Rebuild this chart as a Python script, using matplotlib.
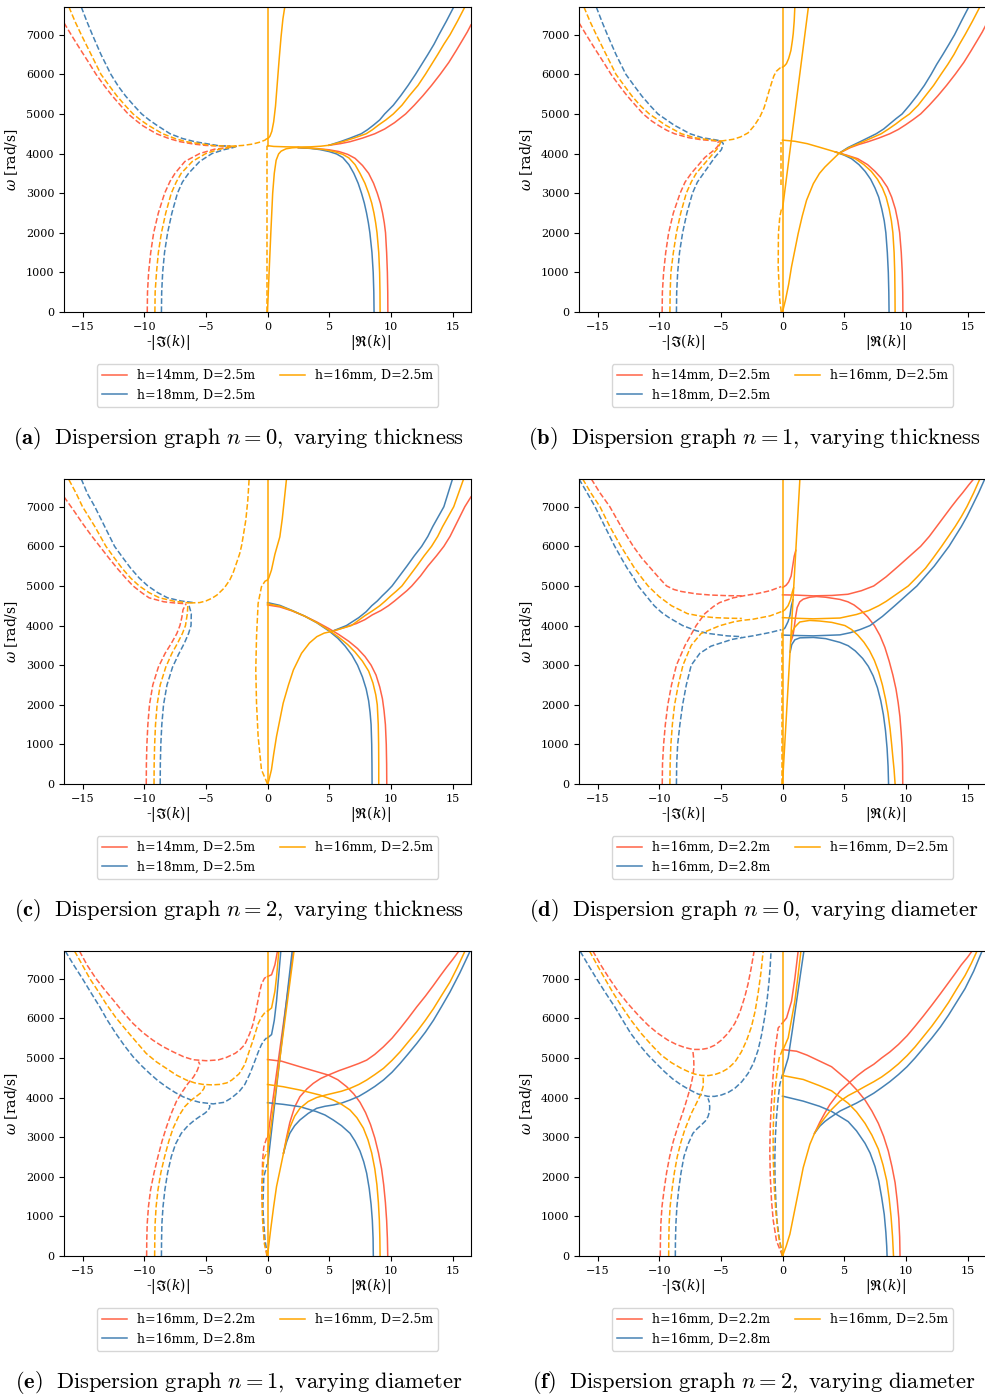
import matplotlib.pyplot as plt
from matplotlib.lines import Line2D

plt.rcParams["font.family"] = "DejaVu Serif"
plt.rcParams["mathtext.fontset"] = "dejavuserif"

RED, BLUE, ORANGE = "tomato", "steelblue", "orange"

# Each curve is (linestyle, [(k, omega), ...]); dashed = -|Im(k)|, solid = |Re(k)|

# (a) n = 0, varying thickness
a_red = [
    ("--", [(-16.5, 7300), (-15.8, 6940), (-15.2, 6640), (-14.5, 6300), (-13.9, 6000), (-13.2, 5700), (-12.6, 5460),
            (-11.9, 5210), (-11.3, 5000), (-10.6, 4820), (-10.1, 4700), (-9.5, 4590), (-9.0, 4500), (-8.0, 4380),
            (-7.1, 4300), (-6.0, 4240), (-5.0, 4205), (-3.0, 4185)]),
    ("--", [(-9.75, 0), (-9.73, 500), (-9.64, 1000), (-9.47, 1500), (-9.23, 2000), (-8.85, 2500), (-8.34, 3000),
            (-7.9, 3300), (-7.5, 3500), (-6.7, 3800), (-5.5, 4000), (-4.3, 4110), (-3.3, 4150), (-2.5, 4185)]),
    ("-", [(5.0, 4210), (5.9, 4250), (6.7, 4300), (7.7, 4390), (8.7, 4500), (9.5, 4620), (10.3, 4780), (11.2, 5000),
           (11.9, 5220), (12.6, 5460), (13.3, 5720), (14.0, 6000), (14.7, 6300), (15.3, 6600), (15.8, 6860),
           (16.2, 7070), (16.5, 7250)]),
    ("-", [(2.5, 4150), (4.0, 4125), (5.0, 4095), (5.8, 4050), (6.5, 3980), (7.1, 3880), (7.7, 3700), (8.2, 3500),
           (8.6, 3250), (8.9, 3000), (9.15, 2750), (9.33, 2500), (9.47, 2250), (9.57, 2000), (9.66, 1500),
           (9.72, 1000), (9.75, 500), (9.76, 0)]),
]
a_blue = [
    ("--", [(-15.1, 7700), (-14.6, 7300), (-14.2, 7000), (-13.5, 6500), (-12.7, 6000), (-12.1, 5700), (-11.5, 5450),
            (-10.8, 5200), (-10.2, 5000), (-9.6, 4850), (-9.0, 4720), (-7.9, 4500), (-6.9, 4380), (-5.9, 4300),
            (-4.0, 4200), (-3.0, 4185)]),
    ("--", [(-8.6, 0), (-8.58, 500), (-8.5, 1000), (-8.35, 1500), (-8.1, 2000), (-7.75, 2500), (-7.3, 3000),
            (-6.9, 3280), (-6.4, 3500), (-5.5, 3800), (-4.5, 4000), (-3.5, 4100), (-2.8, 4150), (-2.5, 4185)]),
    ("-", [(5.0, 4210), (5.9, 4300), (6.7, 4390), (7.6, 4500), (8.1, 4600), (8.6, 4720), (9.1, 4850), (9.5, 5000),
           (10.2, 5220), (10.8, 5460), (11.4, 5720), (12.0, 6000), (12.5, 6250), (13.0, 6500), (13.5, 6760),
           (13.9, 7000), (14.5, 7340), (15.1, 7700)]),
    ("-", [(2.5, 4150), (3.5, 4130), (4.25, 4100), (5.0, 4050), (5.6, 3990), (6.1, 3900), (6.6, 3720), (7.0, 3500),
           (7.35, 3250), (7.62, 3000), (7.85, 2750), (8.03, 2500), (8.18, 2250), (8.3, 2000), (8.47, 1500),
           (8.57, 1000), (8.62, 500), (8.64, 0)]),
]
a_orange = [
    ("--", [(-16.1, 7700), (-15.6, 7330), (-15.1, 7000), (-14.3, 6500), (-13.5, 6000), (-12.8, 5700), (-12.2, 5450),
            (-11.5, 5200), (-10.9, 5000), (-10.3, 4850), (-9.7, 4720), (-8.5, 4500), (-7.5, 4380), (-6.6, 4300),
            (-4.4, 4200), (-3.0, 4185)]),
    ("--", [(-9.13, 0), (-9.11, 500), (-9.0, 1000), (-8.85, 1500), (-8.6, 2000), (-8.25, 2500), (-7.8, 3000),
            (-7.4, 3280), (-7.0, 3500), (-6.1, 3800), (-5.0, 4000), (-3.9, 4110), (-3.1, 4150), (-2.5, 4185)]),
    ("-", [(5.0, 4210), (6.1, 4300), (7.0, 4390), (8.0, 4500), (8.5, 4600), (9.0, 4720), (9.6, 4850), (10.2, 5000),
           (10.9, 5220), (11.5, 5460), (12.2, 5720), (12.8, 6000), (13.3, 6250), (13.8, 6500), (14.3, 6760),
           (14.8, 7000), (15.4, 7340), (16.0, 7700)]),
    ("-", [(2.5, 4150), (3.5, 4135), (4.6, 4100), (5.4, 4050), (6.1, 3980), (6.6, 3890), (7.1, 3720), (7.5, 3500),
           (7.9, 3250), (8.2, 3000), (8.45, 2750), (8.63, 2500), (8.77, 2250), (8.88, 2000), (9.02, 1500),
           (9.09, 1000), (9.12, 500), (9.13, 0)]),
    ("--", [(-3.0, 4185), (-2.0, 4205), (-1.2, 4240), (-0.6, 4290), (-0.2, 4340), (-0.05, 4380)]),
    ("--", [(-0.08, 0), (-0.08, 4200)]),
    ("-", [(0.0, 4200), (0.5, 4180), (1.5, 4170), (2.5, 4165), (3.5, 4170), (4.3, 4185), (5.0, 4210)]),
    ("-", [(0.0, 4190), (0.0, 7700)]),
    ("-", [(0.0, 4380), (0.1, 4400), (0.2, 4440), (0.35, 4560), (0.5, 4800), (0.65, 5200), (0.8, 5800), (0.95, 6400),
           (1.1, 6950), (1.25, 7400), (1.4, 7700)]),
    ("-", [(0.0, 0), (0.13, 1000), (0.27, 2000), (0.42, 3000), (0.55, 3500), (0.7, 3830), (0.9, 3990), (1.1, 4060),
           (1.5, 4120), (2.0, 4145), (2.5, 4155)]),
]

# (b) n = 1, varying thickness
b_red = [
    ("--", [(-16.5, 7300), (-15.8, 6940), (-15.2, 6640), (-14.5, 6300), (-13.9, 6000), (-13.2, 5700), (-12.6, 5460),
            (-11.9, 5210), (-11.3, 5000), (-10.6, 4820), (-10.0, 4700), (-9.4, 4590), (-8.75, 4500), (-7.6, 4400),
            (-6.6, 4350), (-5.5, 4320), (-5.0, 4310)]),
    ("--", [(-9.76, 0), (-9.74, 500), (-9.64, 1000), (-9.47, 1500), (-9.23, 2000), (-8.85, 2500), (-8.3, 3000),
            (-7.9, 3280), (-7.4, 3500), (-6.3, 3900), (-5.5, 4100), (-5.2, 4200), (-5.3, 4280), (-5.0, 4310)]),
    ("-", [(4.6, 4010), (5.5, 4150), (6.2, 4230), (6.95, 4300), (7.8, 4390), (8.7, 4500), (9.4, 4610), (10.0, 4730),
           (10.6, 4860), (11.2, 5000), (11.9, 5220), (12.6, 5460), (13.3, 5720), (14.0, 6000), (14.7, 6300),
           (15.3, 6600), (15.8, 6860), (16.2, 7070), (16.5, 7250)]),
    ("-", [(4.3, 4040), (5.2, 3960), (6.1, 3870), (6.9, 3720), (7.5, 3550), (8.0, 3380), (8.5, 3150), (8.85, 2900),
           (9.15, 2600), (9.35, 2300), (9.5, 2000), (9.63, 1500), (9.71, 1000), (9.75, 500), (9.76, 0)]),
]
b_blue = [
    ("--", [(-15.1, 7700), (-14.6, 7300), (-14.2, 7000), (-13.5, 6500), (-12.7, 6000), (-12.0, 5700), (-11.4, 5450),
            (-10.7, 5200), (-10.1, 5000), (-9.4, 4850), (-8.8, 4720), (-7.5, 4500), (-6.5, 4400), (-5.5, 4350),
            (-5.0, 4320)]),
    ("--", [(-8.6, 0), (-8.58, 500), (-8.5, 1000), (-8.35, 1500), (-8.1, 2000), (-7.75, 2500), (-7.3, 3000),
            (-6.9, 3280), (-6.4, 3500), (-5.5, 3900), (-4.95, 4100), (-4.8, 4250), (-5.0, 4320)]),
    ("-", [(4.6, 4010), (5.3, 4150), (6.3, 4300), (7.6, 4500), (8.2, 4620), (8.7, 4750), (9.2, 4880), (9.7, 5000),
           (10.3, 5220), (10.9, 5460), (11.5, 5720), (12.05, 6000), (12.5, 6250), (13.0, 6500), (13.5, 6760),
           (13.95, 7000), (14.5, 7340), (15.1, 7700)]),
    ("-", [(4.3, 4040), (5.0, 3960), (5.6, 3870), (6.2, 3720), (6.7, 3550), (7.15, 3350), (7.5, 3130), (7.8, 2900),
           (8.05, 2600), (8.25, 2300), (8.38, 2000), (8.5, 1500), (8.58, 1000), (8.62, 500), (8.64, 0)]),
]
b_orange = [
    ("--", [(-16.1, 7700), (-15.6, 7330), (-15.1, 7000), (-14.3, 6500), (-13.5, 6000), (-12.8, 5700), (-12.2, 5450),
            (-11.5, 5200), (-10.8, 5000), (-10.1, 4850), (-9.5, 4720), (-8.2, 4500), (-7.1, 4400), (-6.0, 4350),
            (-5.0, 4315)]),
    ("--", [(-9.13, 0), (-9.11, 500), (-9.05, 1000), (-8.85, 1500), (-8.6, 2000), (-8.25, 2500), (-7.8, 3000),
            (-7.4, 3280), (-7.0, 3500), (-5.9, 3900), (-5.2, 4150), (-5.0, 4300)]),
    ("-", [(4.6, 4010), (5.4, 4150), (6.55, 4300), (8.0, 4500), (8.6, 4620), (9.2, 4750), (9.7, 4870), (10.3, 5000),
           (11.0, 5220), (11.6, 5460), (12.25, 5720), (12.85, 6000), (13.4, 6250), (13.9, 6500), (14.35, 6760),
           (14.8, 7000), (15.4, 7340), (16.0, 7700)]),
    ("-", [(4.3, 4040), (5.1, 3960), (5.9, 3870), (6.6, 3720), (7.2, 3550), (7.7, 3350), (8.1, 3130), (8.4, 2900),
           (8.65, 2600), (8.83, 2300), (8.95, 2000), (9.05, 1500), (9.1, 1000), (9.12, 500), (9.13, 0)]),
    ("--", [(-5.0, 4315), (-4.0, 4360), (-3.4, 4420), (-2.8, 4520), (-2.3, 4700), (-1.84, 4920), (-1.5, 5150),
            (-1.3, 5350), (-1.1, 5570), (-0.9, 5770), (-0.7, 5960), (-0.49, 6080), (-0.2, 6160), (0.0, 6180)]),
    ("-", [(0.0, 6180), (0.15, 6210), (0.32, 6270), (0.5, 6400), (0.68, 6600), (0.8, 6850), (0.87, 7030),
           (0.95, 7350), (1.0, 7700)]),
    ("-", [(0.0, 2600), (1.05, 5150), (2.1, 7700)]),
    ("-", [(0.0, 0), (0.0, 7700)]),
    ("-", [(0.0, 4340), (1.0, 4310), (2.0, 4250), (3.0, 4160), (4.3, 4040)]),
    ("-", [(0.0, 0), (0.24, 300), (0.5, 700), (0.73, 1140), (1.0, 1560), (1.27, 1980), (1.6, 2420), (1.95, 2820),
           (2.5, 3240), (3.0, 3500), (3.44, 3660), (4.0, 3830), (4.6, 4010)]),
    ("--", [(-0.1, 0), (-0.22, 300), (-0.35, 1140), (-0.33, 1980), (-0.22, 2400), (-0.08, 2610)]),
    ("--", [(-0.1, 3200), (-0.1, 4300)]),
]

# (c) n = 2, varying thickness
c_red = [
    ("--", [(-16.5, 7250), (-15.7, 6900), (-15.0, 6580), (-14.3, 6280), (-13.6, 6000), (-12.9, 5720), (-12.2, 5450),
            (-11.5, 5200), (-10.9, 5000), (-10.2, 4830), (-9.6, 4700), (-8.4, 4600), (-7.5, 4570), (-6.6, 4550)]),
    ("--", [(-9.83, 0), (-9.82, 500), (-9.78, 1000), (-9.7, 1500), (-9.57, 2000), (-9.3, 2500), (-8.85, 2950),
            (-8.3, 3300), (-7.8, 3550), (-7.35, 3800), (-7.1, 4000), (-6.95, 4200), (-6.85, 4400), (-6.6, 4550)]),
    ("-", [(5.2, 3850), (6.2, 3950), (7.2, 4050), (7.9, 4150), (8.5, 4270), (9.2, 4380), (9.8, 4500), (10.3, 4620),
           (10.8, 4750), (11.3, 4880), (11.7, 5000), (12.4, 5250), (13.0, 5500), (13.7, 5760), (14.3, 6000),
           (14.8, 6250), (15.2, 6500), (15.6, 6750), (16.0, 7000), (16.5, 7250)]),
    ("-", [(0.0, 4520), (1.0, 4470), (2.0, 4370), (3.0, 4240), (4.0, 4090), (5.0, 3920), (5.8, 3770), (6.6, 3600),
           (7.3, 3420), (7.9, 3220), (8.4, 3000), (8.8, 2750), (9.1, 2450), (9.32, 2150), (9.45, 1850), (9.56, 1500),
           (9.63, 1000), (9.66, 500), (9.67, 0)]),
]
c_blue = [
    ("--", [(-15.1, 7700), (-14.6, 7330), (-14.0, 7000), (-13.2, 6500), (-12.4, 6000), (-11.7, 5700), (-11.1, 5450),
            (-10.4, 5200), (-9.7, 5000), (-8.9, 4830), (-8.1, 4700), (-7.0, 4620), (-6.0, 4580)]),
    ("--", [(-8.7, 0), (-8.69, 500), (-8.65, 1000), (-8.57, 1500), (-8.43, 2000), (-8.15, 2500), (-7.7, 2950),
            (-7.2, 3280), (-6.75, 3550), (-6.4, 3800), (-6.2, 4000), (-6.18, 4300), (-6.4, 4550)]),
    ("-", [(5.2, 3850), (6.4, 4000), (7.4, 4200), (8.0, 4350), (8.45, 4500), (8.9, 4620), (9.3, 4750), (9.7, 4870),
           (10.1, 5000), (10.7, 5250), (11.3, 5500), (11.9, 5760), (12.5, 6000), (13.0, 6250), (13.4, 6500),
           (13.85, 6750), (14.3, 7000), (14.65, 7350), (15.0, 7700)]),
    ("-", [(0.0, 4580), (1.0, 4510), (2.0, 4380), (3.0, 4240), (4.0, 4070), (5.0, 3860), (5.7, 3680), (6.3, 3480),
           (6.85, 3250), (7.3, 3000), (7.7, 2700), (8.0, 2400), (8.2, 2100), (8.32, 1800), (8.4, 1500), (8.45, 1000),
           (8.47, 500), (8.48, 0)]),
]
c_orange = [
    ("--", [(-16.1, 7680), (-15.5, 7330), (-15.0, 7000), (-14.0, 6500), (-13.1, 6000), (-12.4, 5700), (-11.8, 5450),
            (-11.1, 5200), (-10.4, 5000), (-9.6, 4830), (-8.75, 4700), (-7.5, 4610), (-6.3, 4570)]),
    ("--", [(-9.2, 0), (-9.19, 500), (-9.15, 1000), (-9.08, 1500), (-8.95, 2000), (-8.7, 2500), (-8.25, 2950),
            (-7.75, 3300), (-7.3, 3550), (-6.9, 3800), (-6.65, 4000), (-6.5, 4300), (-6.45, 4560)]),
    ("-", [(5.2, 3850), (6.8, 4000), (7.9, 4250), (8.5, 4370), (9.1, 4500), (9.55, 4620), (10.0, 4750), (10.45, 4870),
           (10.9, 5000), (11.5, 5250), (12.1, 5500), (12.7, 5760), (13.3, 6000), (13.8, 6250), (14.2, 6500),
           (14.65, 6750), (15.1, 7000), (15.5, 7350), (15.9, 7700)]),
    ("-", [(0.0, 4550), (1.0, 4490), (2.0, 4375), (3.0, 4240), (4.0, 4075), (5.0, 3880), (5.8, 3700), (6.5, 3520),
           (7.1, 3330), (7.7, 3100), (8.2, 2850), (8.55, 2550), (8.78, 2250), (8.9, 2000), (8.98, 1500), (9.01, 1000),
           (9.02, 500), (9.02, 0)]),
    ("--", [(-6.3, 4570), (-5.5, 4580), (-5.0, 4620), (-4.5, 4690), (-4.1, 4770), (-3.5, 4950), (-3.06, 5150),
            (-2.8, 5320), (-2.6, 5500), (-2.4, 5680), (-2.25, 5820), (-2.1, 6020), (-2.0, 6200), (-1.88, 6430),
            (-1.76, 6660), (-1.6, 7150), (-1.49, 7700)]),
    ("--", [(0.0, 0), (-0.2, 150), (-0.49, 360), (-0.76, 1200), (-0.89, 2040), (-0.95, 2880), (-0.89, 3720),
            (-0.76, 4560), (-0.49, 4980), (-0.2, 5120), (0.0, 5150)]),
    ("-", [(0.0, 0), (0.0, 7700)]),
    ("-", [(0.0, 5150), (0.1, 5200), (0.32, 5400), (0.6, 5800), (0.8, 6020), (1.0, 6240), (1.2, 6700), (1.33, 7080),
           (1.54, 7700)]),
    ("-", [(0.0, 0), (0.1, 80), (0.32, 360), (0.5, 750), (0.73, 1200), (1.0, 1620), (1.27, 2040), (1.7, 2500),
           (2.1, 2880), (2.76, 3300), (3.4, 3560), (4.0, 3720), (4.6, 3810), (5.2, 3850)]),
]

# (d) n = 0, varying diameter
d_red = [
    ("--", [(-15.5, 7700), (-14.8, 7350), (-14.0, 7000), (-13.0, 6450), (-12.1, 6000), (-11.4, 5700), (-10.7, 5450),
            (-10.0, 5200), (-9.4, 5000), (-8.8, 4910), (-8.2, 4860), (-7.0, 4800), (-5.8, 4770), (-4.5, 4755),
            (-3.3, 4750)]),
    ("--", [(-9.75, 0), (-9.73, 500), (-9.64, 1000), (-9.5, 1500), (-9.3, 2000), (-9.0, 2500), (-8.6, 3000),
            (-7.9, 3500), (-7.0, 4000), (-6.3, 4300), (-5.6, 4480), (-5.1, 4580), (-4.0, 4700), (-3.0, 4760),
            (-2.0, 4810), (-1.0, 4880), (-0.1, 4985)]),
    ("-", [(0.02, 4960), (0.3, 5020), (0.5, 5100), (0.7, 5250), (0.85, 5550), (0.95, 5750), (1.08, 5900)]),
    ("-", [(0.0, 4775), (1.0, 4770), (2.5, 4750), (4.0, 4760), (5.3, 4790), (6.4, 4880), (7.4, 5000), (8.4, 5230),
           (9.4, 5500), (10.3, 5750), (11.2, 6000), (11.9, 6250), (12.5, 6500), (13.1, 6750), (13.7, 7000),
           (14.2, 7200), (14.6, 7350), (15.1, 7550), (15.5, 7700)]),
    ("-", [(0.68, 3600), (0.85, 3750), (0.95, 3950), (1.05, 4200), (1.19, 4456), (1.4, 4600), (1.68, 4666),
           (2.2, 4715), (2.76, 4733), (3.5, 4715), (4.66, 4660), (5.3, 4600), (5.8, 4520), (6.3, 4400), (6.9, 4220),
           (7.45, 4000), (7.9, 3750), (8.3, 3450), (8.65, 3100), (8.95, 2750), (9.2, 2400), (9.38, 2050),
           (9.52, 1700), (9.62, 1300), (9.7, 900), (9.74, 450), (9.75, 0)]),
]
d_blue = [
    ("--", [(-16.5, 7700), (-15.8, 7330), (-15.2, 7000), (-14.4, 6500), (-13.6, 6000), (-13.1, 5720), (-12.6, 5450),
            (-12.1, 5220), (-11.7, 5000), (-11.0, 4730), (-10.4, 4500), (-9.8, 4330), (-9.2, 4200), (-8.1, 4000),
            (-7.0, 3870), (-6.0, 3800), (-4.5, 3740), (-3.3, 3720)]),
    ("--", [(-8.6, 0), (-8.58, 500), (-8.5, 1000), (-8.32, 1500), (-8.1, 2000), (-7.8, 2500), (-7.4, 3000),
            (-6.7, 3300), (-5.8, 3480), (-5.1, 3550), (-4.1, 3650), (-3.0, 3710), (-2.4, 3740), (-1.0, 3825),
            (-0.1, 3895)]),
    ("-", [(0.02, 3890), (0.2, 3940), (0.45, 4100), (0.6, 4250), (0.72, 4500), (0.85, 4650)]),
    ("-", [(0.0, 3760), (1.0, 3750), (2.5, 3740), (4.66, 3765), (5.5, 3820), (6.3, 3900), (7.1, 4000), (8.1, 4230),
           (9.1, 4500), (10.0, 4750), (10.9, 5000), (11.6, 5250), (12.3, 5500), (12.9, 5750), (13.5, 6000),
           (14.0, 6250), (14.5, 6500), (14.95, 6750), (15.35, 7000), (15.9, 7350), (16.4, 7700)]),
    ("-", [(0.62, 3330), (0.75, 3520), (1.0, 3640), (1.41, 3690), (2.5, 3700), (3.5, 3670), (4.66, 3575),
           (5.33, 3490), (5.9, 3360), (6.5, 3170), (6.96, 2970), (7.35, 2730), (7.7, 2430), (7.97, 2100),
           (8.18, 1750), (8.35, 1350), (8.48, 900), (8.56, 450), (8.6, 0)]),
]
d_orange = [
    ("--", [(-16.2, 7700), (-15.5, 7330), (-14.8, 7000), (-14.0, 6500), (-13.1, 6000), (-12.5, 5700), (-12.0, 5450),
            (-11.4, 5200), (-10.9, 5000), (-10.0, 4730), (-9.0, 4500), (-7.7, 4300), (-6.5, 4230), (-5.5, 4200),
            (-4.3, 4185), (-3.3, 4180)]),
    ("--", [(-9.13, 0), (-9.11, 500), (-9.05, 1000), (-8.93, 1500), (-8.75, 2000), (-8.45, 2500), (-8.07, 3000),
            (-7.4, 3500), (-6.6, 3800), (-5.1, 3995), (-4.0, 4090), (-3.3, 4130), (-2.4, 4160), (-1.0, 4245),
            (-0.1, 4350)]),
    ("-", [(0.02, 4360), (0.2, 4400), (0.45, 4500), (0.65, 4650), (0.8, 4850), (0.9, 4950)]),
    ("-", [(0.0, 4200), (1.0, 4185), (2.5, 4170), (4.66, 4190), (6.0, 4280), (7.0, 4380), (7.8, 4500), (8.4, 4610),
           (9.0, 4740), (9.6, 4870), (10.2, 5000), (10.9, 5220), (11.6, 5450), (12.25, 5720), (12.9, 6000),
           (13.45, 6250), (14.0, 6500), (14.5, 6750), (14.95, 7000), (15.5, 7350), (16.0, 7700)]),
    ("-", [(0.68, 3660), (0.8, 3850), (1.0, 3960), (1.4, 4090), (2.2, 4130), (3.0, 4115), (4.0, 4080), (5.06, 4000),
           (5.6, 3900), (6.1, 3760), (6.6, 3580), (7.05, 3370), (7.45, 3120), (7.8, 2830), (8.1, 2500), (8.35, 2150),
           (8.55, 1800), (8.72, 1400), (8.85, 1000), (8.94, 700), (9.05, 350), (9.13, 0)]),
    ("--", [(-0.05, 0), (-0.05, 3900)]),
    ("-", [(0.0, 0), (0.0, 7700)]),
    ("-", [(0.0, 0), (1.41, 7700)]),
]

# (e) n = 1, varying diameter
e_red = [
    ("--", [(-15.25, 7700), (-14.6, 7330), (-13.9, 7000), (-13.2, 6720), (-12.5, 6460), (-11.7, 6150), (-10.9, 5870),
            (-10.1, 5640), (-9.3, 5450), (-8.5, 5290), (-7.66, 5155), (-6.8, 5030), (-6.04, 4955), (-4.96, 4930),
            (-4.0, 4950), (-3.33, 5013), (-2.6, 5120), (-2.2, 5220), (-1.84, 5337), (-1.44, 5617), (-1.2, 5830),
            (-1.03, 6050), (-0.85, 6330), (-0.65, 6640), (-0.49, 6860), (-0.25, 7010), (-0.05, 7055)]),
    ("-", [(0.0, 7055), (0.33, 7100), (0.6, 7350), (0.81, 7700)]),
    ("--", [(-9.8, 0), (-9.79, 400), (-9.75, 831), (-9.65, 1250), (-9.48, 1671), (-9.2, 2100), (-8.88, 2510),
            (-8.55, 2900), (-8.2, 3250), (-7.8, 3600), (-7.39, 3900), (-6.9, 4150), (-6.44, 4358), (-6.0, 4520),
            (-5.7, 4680), (-5.5, 4845), (-5.6, 4910)]),
    ("-", [(0.02, 3000), (2.1, 7700)]),
    ("--", [(-0.05, 0), (-0.3, 500), (-0.45, 1500), (-0.4, 2400), (-0.3, 2750), (-0.05, 3000)]),
    ("-", [(0.0, 4960), (1.14, 4918), (2.63, 4778), (3.7, 4680), (4.93, 4568), (5.7, 4450), (6.42, 4274),
           (7.0, 4090), (7.5, 3880), (7.95, 3620), (8.35, 3320), (8.7, 2980), (9.0, 2600), (9.25, 2200),
           (9.42, 1800), (9.56, 1350), (9.66, 900), (9.72, 450), (9.75, 0)]),
    ("-", [(1.3, 2600), (1.55, 3000), (1.81, 3370), (2.2, 3760), (2.63, 4022), (3.2, 4220), (3.71, 4358),
           (4.3, 4480), (4.93, 4568), (5.8, 4680), (6.69, 4778), (7.4, 4860), (8.04, 4945), (8.7, 5090), (9.4, 5281),
           (10.1, 5500), (10.75, 5743), (11.4, 6000), (12.1, 6289), (12.8, 6560), (13.46, 6835), (14.0, 7070),
           (14.5, 7280), (15.0, 7480), (15.5, 7690)]),
]
e_blue = [
    ("--", [(-16.4, 7700), (-15.7, 7340), (-15.0, 7000), (-14.3, 6640), (-13.6, 6290), (-13.0, 5960), (-12.3, 5620),
            (-11.6, 5310), (-10.9, 5030), (-10.2, 4800), (-9.56, 4610), (-8.9, 4430), (-8.2, 4270), (-7.5, 4130),
            (-6.85, 4020), (-6.2, 3940), (-5.5, 3880), (-4.4, 3840), (-3.5, 3880), (-2.9, 3995), (-2.3, 4150),
            (-1.84, 4330), (-1.4, 4620), (-1.03, 4918), (-0.75, 5150), (-0.49, 5337), (-0.25, 5450), (-0.08, 5505)]),
    ("-", [(0.0, 5505), (0.33, 5590), (0.55, 5950), (0.73, 6430), (0.9, 7050), (1.08, 7700)]),
    ("--", [(-8.6, 0), (-8.59, 400), (-8.56, 831), (-8.47, 1250), (-8.32, 1671), (-8.1, 2100), (-7.8, 2510),
            (-7.45, 2830), (-6.99, 3098), (-6.45, 3290), (-5.9, 3434), (-5.45, 3530), (-5.09, 3602), (-4.8, 3680),
            (-4.68, 3760), (-4.7, 3812)]),
    ("-", [(0.02, 2320), (2.0, 7700)]),
    ("--", [(0.0, 0), (-0.2, 400), (-0.38, 1200), (-0.3, 2000), (-0.02, 2320)]),
    ("-", [(0.0, 3870), (1.27, 3829), (2.63, 3770), (3.98, 3644), (4.66, 3560), (5.33, 3434), (6.0, 3290),
           (6.69, 3098), (7.1, 2900), (7.5, 2650), (7.8, 2380), (8.04, 2090), (8.25, 1700), (8.4, 1300),
           (8.5, 900), (8.56, 450), (8.58, 0)]),
    ("-", [(1.3, 2600), (1.55, 2880), (1.81, 3098), (2.2, 3290), (2.63, 3434), (3.3, 3600), (3.98, 3728),
           (4.66, 3780), (5.33, 3812), (6.0, 3860), (6.69, 3938), (7.4, 4030), (8.04, 4148), (8.7, 4280), (9.4, 4442),
           (10.1, 4640), (10.75, 4861), (11.4, 5100), (12.1, 5365), (12.8, 5650), (13.46, 5953), (14.1, 6290),
           (14.8, 6667), (15.6, 7150), (16.4, 7680)]),
]
e_orange = [
    ("--", [(-15.65, 7700), (-15.0, 7340), (-14.4, 7000), (-13.7, 6670), (-13.1, 6373), (-12.3, 6020), (-11.45, 5701),
            (-10.6, 5390), (-9.83, 5113), (-9.0, 4900), (-8.2, 4736), (-7.4, 4570), (-6.58, 4442), (-5.9, 4370),
            (-5.23, 4332), (-4.5, 4320), (-3.87, 4332), (-3.3, 4370), (-2.9, 4440), (-2.3, 4600), (-1.84, 4835),
            (-1.45, 5200), (-1.2, 5420), (-1.03, 5590), (-0.75, 5870), (-0.49, 6030), (-0.2, 6150), (0.0, 6180)]),
    ("-", [(0.0, 6180), (0.33, 6262), (0.6, 6682), (0.75, 7100), (0.92, 7700)]),
    ("--", [(-9.15, 0), (-9.14, 400), (-9.11, 831), (-9.03, 1250), (-8.88, 1671), (-8.65, 2100), (-8.34, 2510),
            (-8.0, 2900), (-7.66, 3220), (-7.2, 3530), (-6.71, 3770), (-6.2, 3930), (-5.77, 4030), (-5.4, 4120),
            (-5.15, 4230), (-5.1, 4300)]),
    ("-", [(0.02, 2650), (2.15, 7700)]),
    ("--", [(0.0, 0), (-0.25, 300), (-0.42, 1000), (-0.45, 1800), (-0.3, 2450), (-0.02, 2650)]),
    ("-", [(0.0, 4330), (1.27, 4274), (2.63, 4190), (4.25, 4064), (5.33, 3938), (6.0, 3830), (6.69, 3686),
           (7.25, 3490), (7.77, 3230), (8.15, 2930), (8.45, 2600), (8.7, 2200), (8.87, 1800), (8.99, 1350),
           (9.07, 900), (9.11, 450), (9.13, 0)]),
    ("-", [(1.3, 2600), (1.55, 2950), (1.81, 3240), (2.2, 3530), (2.63, 3728), (3.3, 3900), (3.98, 4000),
           (4.66, 4060), (5.33, 4110), (6.0, 4160), (6.69, 4232), (7.4, 4330), (8.04, 4442), (8.7, 4580), (9.4, 4736),
           (10.1, 4940), (10.75, 5155), (11.4, 5400), (12.1, 5659), (12.8, 5950), (13.46, 6247), (14.1, 6570),
           (14.8, 6919), (15.4, 7290), (16.0, 7690)]),
    ("-", [(0.0, 0), (0.25, 650), (0.5, 1250), (0.73, 1750), (1.0, 2150), (1.3, 2600)]),
    ("-", [(0.0, 0), (0.0, 7700)]),
]

# (f) n = 2, varying diameter
f_red = [
    ("--", [(-15.38, 7700), (-14.7, 7330), (-14.03, 7000), (-13.3, 6670), (-12.54, 6373), (-11.7, 6080),
            (-10.9, 5827), (-10.1, 5620), (-9.29, 5449), (-8.6, 5340), (-7.93, 5264), (-7.26, 5215), (-6.6, 5215),
            (-6.04, 5245), (-5.5, 5320), (-4.96, 5449), (-4.4, 5630), (-3.87, 5869), (-3.45, 6160), (-3.06, 6541),
            (-2.8, 6860), (-2.55, 7250), (-2.3, 7700)]),
    ("--", [(-9.91, 0), (-9.9, 400), (-9.86, 831), (-9.77, 1250), (-9.6, 1671), (-9.4, 2100), (-9.15, 2510),
            (-8.85, 2900), (-8.48, 3266), (-8.2, 3520), (-7.93, 3770), (-7.65, 4060), (-7.39, 4358), (-7.25, 4580),
            (-7.18, 4778), (-7.2, 4980), (-7.26, 5155)]),
    ("--", [(0.0, 0), (-0.49, 384), (-0.75, 900), (-0.89, 1391), (-0.99, 2000), (-1.03, 2650), (-0.99, 3300),
            (-0.89, 3910), (-0.76, 4550), (-0.62, 5169), (-0.35, 5757), (0.0, 5883)]),
    ("-", [(0.0, 5883), (0.33, 6010), (0.73, 6430), (1.0, 7000), (1.27, 7700)]),
    ("-", [(0.0, 5210), (1.14, 5170), (2.0, 5070), (3.03, 4918), (3.98, 4778), (4.66, 4600), (5.33, 4420),
           (6.0, 4200), (6.69, 3938), (7.25, 3660), (7.77, 3350), (8.2, 3020), (8.58, 2650), (8.88, 2250),
           (9.13, 1850), (9.3, 1400), (9.43, 950), (9.5, 480), (9.53, 0)]),
    ("-", [(2.6, 3100), (3.03, 3380), (3.45, 3620), (3.85, 3827), (4.66, 4162), (5.5, 4400), (6.1, 4560),
           (6.69, 4700), (7.4, 4840), (8.04, 5000), (8.7, 5150), (9.4, 5340), (10.1, 5560), (10.75, 5800),
           (11.4, 6050), (12.1, 6330), (12.8, 6620), (13.46, 6900), (14.0, 7130), (14.5, 7350), (15.0, 7540),
           (15.35, 7690)]),
]
f_blue = [
    ("--", [(-16.4, 7690), (-15.7, 7320), (-15.0, 6961), (-14.3, 6620), (-13.6, 6289), (-12.95, 5950), (-12.3, 5617),
            (-11.6, 5330), (-10.9, 5071), (-10.2, 4850), (-9.56, 4652), (-8.9, 4470), (-8.2, 4316), (-7.5, 4190),
            (-6.85, 4089), (-6.04, 4030), (-5.5, 4030), (-4.96, 4064), (-4.4, 4130), (-3.87, 4232), (-3.3, 4400),
            (-2.79, 4610), (-2.35, 4870), (-1.98, 5197), (-1.7, 5580), (-1.44, 6037), (-1.25, 6460), (-1.1, 6900),
            (-1.0, 7300), (-0.93, 7690)]),
    ("--", [(-8.69, 0), (-8.68, 400), (-8.64, 831), (-8.56, 1250), (-8.42, 1671), (-8.23, 2100), (-7.99, 2510),
            (-7.65, 2830), (-7.26, 3098), (-6.9, 3220), (-6.58, 3308), (-6.25, 3410), (-6.04, 3518), (-5.92, 3650),
            (-5.9, 3770), (-5.95, 3900), (-6.04, 3980)]),
    ("--", [(0.0, 0), (-0.27, 468), (-0.45, 900), (-0.54, 1391), (-0.61, 1950), (-0.62, 2483), (-0.58, 3000),
            (-0.49, 3491), (-0.36, 3950), (-0.22, 4330), (0.0, 4582)]),
    ("-", [(0.05, 4582), (0.46, 5000), (0.8, 5700), (1.14, 6430), (1.45, 7100), (1.73, 7690)]),
    ("-", [(0.0, 4036), (1.68, 3910), (3.0, 3780), (3.98, 3650), (4.66, 3520), (5.33, 3392), (6.0, 3160),
           (6.69, 2846), (7.1, 2600), (7.5, 2259), (7.8, 1900), (8.04, 1480), (8.25, 1050), (8.38, 600),
           (8.45, 250), (8.48, 0)]),
    ("-", [(2.6, 3100), (3.03, 3280), (3.45, 3400), (3.85, 3491), (4.66, 3659), (5.33, 3760), (6.0, 3860),
           (6.69, 3980), (7.4, 4110), (8.04, 4250), (8.7, 4400), (9.4, 4580), (10.1, 4780), (10.75, 5000),
           (11.4, 5240), (12.1, 5500), (12.8, 5780), (13.46, 6080), (14.1, 6400), (14.8, 6750), (15.5, 7190),
           (16.17, 7690)]),
]
f_orange = [
    ("--", [(-15.65, 7700), (-15.0, 7330), (-14.4, 7000), (-13.75, 6650), (-13.1, 6331), (-12.3, 5960),
            (-11.45, 5617), (-10.6, 5320), (-9.83, 5071), (-9.0, 4880), (-8.2, 4736), (-7.6, 4650), (-7.12, 4593),
            (-6.58, 4560), (-6.0, 4555), (-5.5, 4580), (-4.95, 4640), (-4.41, 4736), (-3.85, 4900), (-3.33, 5155),
            (-2.9, 5450), (-2.52, 5785), (-2.22, 6180), (-1.98, 6625), (-1.75, 7150), (-1.57, 7690)]),
    ("--", [(-9.23, 0), (-9.22, 400), (-9.19, 831), (-9.11, 1250), (-8.96, 1671), (-8.77, 2100), (-8.53, 2510),
            (-8.25, 2860), (-7.93, 3182), (-7.65, 3400), (-7.39, 3602), (-7.1, 3780), (-6.85, 3938), (-6.6, 4100),
            (-6.44, 4274), (-6.42, 4420), (-6.44, 4526)]),
    ("--", [(0.0, 0), (-0.35, 552), (-0.55, 1150), (-0.68, 1811), (-0.75, 2450), (-0.76, 3071), (-0.71, 3650),
            (-0.62, 4162), (-0.45, 4620), (-0.27, 5000), (0.0, 5211)]),
    ("-", [(0.05, 5211), (0.46, 5505), (1.0, 6430), (1.25, 7050), (1.49, 7690)]),
    ("-", [(0.0, 4557), (1.68, 4457), (3.0, 4300), (3.98, 4170), (4.66, 4010), (5.33, 3854), (6.0, 3640),
           (6.69, 3350), (7.25, 3050), (7.77, 2700), (8.15, 2300), (8.45, 1900), (8.65, 1450), (8.8, 1000),
           (8.92, 500), (9.0, 0)]),
    ("-", [(3.03, 3323), (3.45, 3500), (3.85, 3659), (4.66, 3910), (5.33, 4050), (6.0, 4160), (6.69, 4280),
           (7.4, 4400), (8.04, 4520), (8.7, 4670), (9.4, 4850), (10.1, 5060), (10.75, 5280), (11.4, 5530),
           (12.1, 5800), (12.8, 6100), (13.46, 6400), (14.1, 6730), (14.8, 7080), (15.3, 7380), (15.76, 7690)]),
    ("-", [(0.0, 0), (0.3, 250), (0.6, 552), (1.14, 1391), (1.68, 2231), (2.22, 2820), (2.6, 3100), (3.03, 3323)]),
    ("-", [(0.0, 0), (0.0, 7700)]),
]

thickness_labels = ["h=14mm, D=2.5m", "h=18mm, D=2.5m", "h=16mm, D=2.5m"]
diameter_labels = ["h=16mm, D=2.2m", "h=16mm, D=2.8m", "h=16mm, D=2.5m"]

panels = [
    ("a", 0, "thickness", thickness_labels, a_red, a_blue, a_orange),
    ("b", 1, "thickness", thickness_labels, b_red, b_blue, b_orange),
    ("c", 2, "thickness", thickness_labels, c_red, c_blue, c_orange),
    ("d", 0, "diameter", diameter_labels, d_red, d_blue, d_orange),
    ("e", 1, "diameter", diameter_labels, e_red, e_blue, e_orange),
    ("f", 2, "diameter", diameter_labels, f_red, f_blue, f_orange),
]

W, H = 985, 1398
fig = plt.figure(figsize=(W / 100, H / 100), dpi=100)

col_left = [64, 579]
row_top = [7, 479, 951]
ax_w, ax_h = 407, 305

for i, (tag, n, varying, labels, reds, blues, oranges) in enumerate(panels):
    row, col = divmod(i, 2)
    x0, y0 = col_left[col], row_top[row]
    ax = fig.add_axes([x0 / W, 1 - (y0 + ax_h) / H, ax_w / W, ax_h / H])

    for color, curves in ((RED, reds), (BLUE, blues), (ORANGE, oranges)):
        for style, pts in curves:
            k, w = zip(*pts)
            ax.plot(k, w, style, color=color, lw=1.1)

    ax.set_xlim(-16.5, 16.5)
    ax.set_ylim(0, 7700)
    ax.set_xticks([-15, -10, -5, 0, 5, 10, 15])
    ax.set_yticks(range(0, 8000, 1000))
    ax.tick_params(labelsize=8)
    ax.set_ylabel(r"$\omega$ [rad/s]", fontsize=10)
    ax.text(0.255, -0.098, r"-$|\Im(k)|$", transform=ax.transAxes, ha="center", va="center", fontsize=10)
    ax.text(0.752, -0.098, r"$|\Re(k)|$", transform=ax.transAxes, ha="center", va="center", fontsize=10)

    handles = [Line2D([], [], color=c, lw=1.1) for c in (RED, BLUE, ORANGE)]
    cx = (x0 + ax_w / 2) / W
    ax.legend(handles, labels, ncol=2, loc="upper center", fontsize=9,
              bbox_to_anchor=(cx, 1 - (y0 + ax_h + 46) / H), bbox_transform=fig.transFigure)

    caption = (r"$\mathbf{(" + tag + r")}\ \ \mathrm{Dispersion\ graph}\ n=" + str(n)
               + r",\ \mathrm{varying\ " + varying + r"}$")
    fig.text((239 + 515 * col) / W, 1 - (y0 + 431) / H, caption, ha="center", va="center",
             fontsize=16.2, math_fontfamily="cm")

fig.savefig("out.png", dpi=100)
